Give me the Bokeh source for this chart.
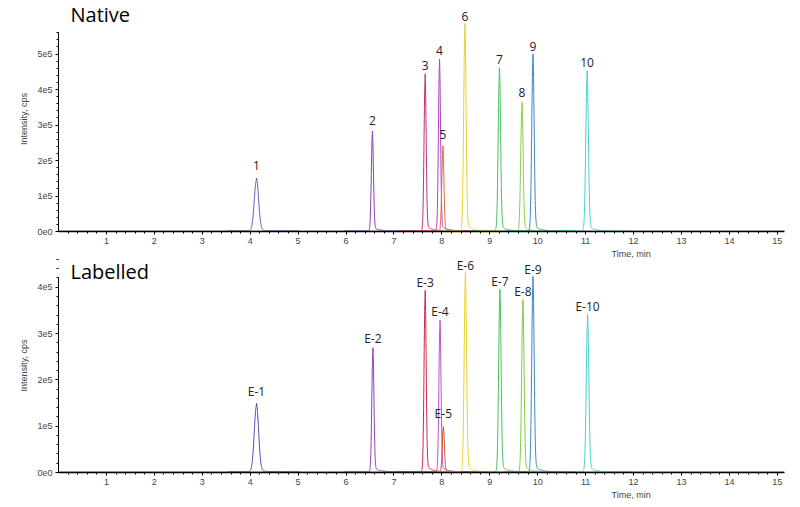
import numpy as np
from bokeh.plotting import figure
from bokeh.layouts import column
from bokeh.models import CustomJSTickFormatter, Label, FixedTicker, Title
from bokeh.embed import file_html
from bokeh.resources import INLINE

native_labels = ["1", "2", "3", "4", "5", "6", "7", "8", "9", "10"]
native_rt = [4.13, 6.55, 7.65, 7.95, 8.02, 8.48, 9.20, 9.67, 9.90, 11.03]
native_height = [1.43e5, 2.71e5, 4.26e5, 4.66e5, 2.31e5, 5.63e5, 4.43e5, 3.49e5, 4.80e5, 4.34e5]
lab_labels = ["E-1", "E-2", "E-3", "E-4", "E-5", "E-6", "E-7", "E-8", "E-9", "E-10"]
lab_rt = [4.13, 6.56, 7.65, 7.96, 8.03, 8.49, 9.21, 9.69, 9.90, 11.04]
lab_height = [1.42e5, 2.58e5, 3.77e5, 3.15e5, 0.94e5, 4.15e5, 3.79e5, 3.58e5, 4.06e5, 3.27e5]
peak_sigma = [0.045, 0.022, 0.022, 0.022, 0.022, 0.025, 0.025, 0.025, 0.025, 0.027]
native_colors = ["#5a5ab4", "#8a3cb0", "#c0307a", "#b040c0", "#e06a3a", "#e8d030",
                 "#48c060", "#88d048", "#3a88c8", "#48d0d0"]
lab_colors = ["#4a4ab0", "#9040b8", "#d0284a", "#c050c8", "#d05030", "#e8d030",
              "#48c060", "#80cc40", "#3a88c8", "#48d0d0"]

fmt = CustomJSTickFormatter(code="return tick==0 ? '0e0' : (tick/1e5).toFixed(0)+'e5';")

def make(title, rts, heights, labels, colors, ymax, ybound, h, top, label_dy, title_dy):
    p = figure(width=792, height=h, x_range=(0, 15.15), y_range=(0, ymax),
               output_backend="svg", toolbar_location=None,
               min_border_left=58, min_border_right=8, min_border_top=top, min_border_bottom=0)
    p.outline_line_color = None
    p.grid.visible = False
    p.xaxis.ticker = FixedTicker(ticks=list(range(1, 16)),
                                 minor_ticks=list(np.arange(0.2, 15.2, 0.2)))
    p.yaxis.ticker = FixedTicker(ticks=[i * 1e5 for i in range(6)],
                                 minor_ticks=[i * 2e4 for i in range(29)])
    p.yaxis.bounds = (0, ybound)
    p.yaxis.formatter = fmt
    p.yaxis.axis_label = "Intensity, cps"
    p.yaxis.axis_label_text_font_size = "9px"
    p.yaxis.axis_label_text_font_style = "normal"
    p.yaxis.axis_label_text_font = "Liberation Sans"
    for ax in (p.xaxis, p.yaxis):
        ax.major_label_text_font_size = "9px"
        ax.major_label_text_font = "Liberation Sans"
        ax.axis_line_color = "black"
        ax.major_tick_out = 3
        ax.major_tick_in = 0
        ax.minor_tick_out = 2
        ax.minor_tick_in = 0
        ax.major_label_standoff = 3
    p.xaxis.axis_line_width = 1.5
    p.line([0, 15.15], [800, 800], color="#6060a0", line_width=1)
    for rt, ht, s, c, lab in zip(rts, heights, peak_sigma, colors, labels):
        x = np.linspace(rt - 0.6, rt + 0.9, 600)
        y = ht * np.exp(-0.5 * ((x - rt) / s) ** 2)
        tail = np.where(x > rt, ht * 0.04 * np.exp(-(x - rt) / 0.12), 0)
        p.line(x, y + tail + 1500, color=c, line_width=1)
        p.add_layout(Label(x=rt, y=ht + label_dy, text=lab, text_align="center",
                           text_baseline="bottom", text_font_size="12px",
                           text_font="Open Sans", text_color="#222222"))
    p.add_layout(Label(x=0.25, y=ymax, y_offset=title_dy, text=title, text_align="left",
                       text_baseline="middle", text_font_size="20px",
                       text_font="Open Sans", text_color="black"))
    p.add_layout(Title(text="Time, min", align="left", offset=553, text_font_size="9px",
                       text_font="Liberation Sans", text_font_style="normal",
                       standoff=0), "below")
    return p

p1 = make("Native", native_rt, native_height, native_labels, native_colors,
          6.34e5, 5.6e5, 258, 6, 3.0e4, -8)
p2 = make("Labelled", lab_rt, lab_height, lab_labels, lab_colors,
          4.62e5, 4.2e5, 241, 0, 1.4e4, -13)
layout = column(p1, p2, spacing=0)
open("out.html", "w").write(file_html(layout, INLINE))
